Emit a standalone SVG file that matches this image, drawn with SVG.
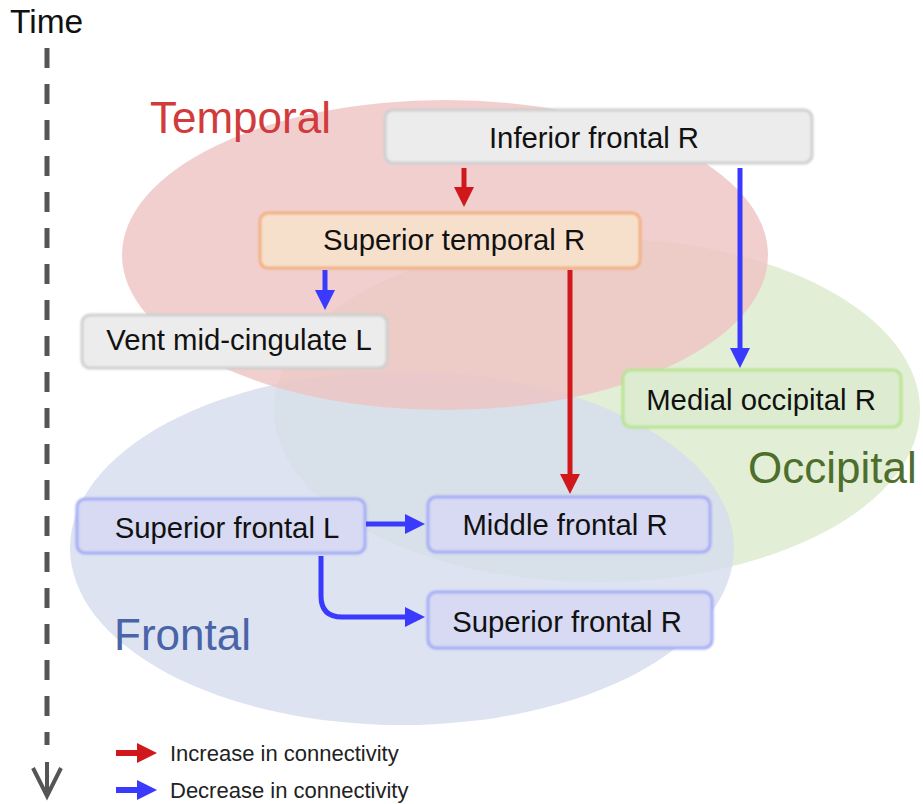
<svg xmlns="http://www.w3.org/2000/svg" width="923" height="804" viewBox="0 0 923 804">
  <style>
    .t { font-family: "Liberation Sans", Arial, sans-serif; fill: #111; }
    .node { font-size: 29.3px; text-anchor: middle; }
    .region { font-size: 44px; }
    .legend { font-size: 22px; fill: #222; }
    .red { stroke: #d0181c; }
    .blue { stroke: #3a3aff; }
    .conn { fill: none; stroke-width: 5; }
    .gray rect.b { fill: #ececec; stroke: #cfcfcf; }
    .peach rect.b { fill: #f6e0cc; stroke: #f0b080; }
    .green rect.b { fill: #ddecd0; stroke: #b5e48e; }
    .bl rect.b { fill: #d7daf2; stroke: #a3abf6; }
    rect.b { stroke-width: 3; }
  </style>
  <defs>
    <marker id="ar" markerUnits="userSpaceOnUse" markerWidth="22" markerHeight="22" refX="2" refY="10" orient="auto">
      <path d="M0,0 L20,10 L0,20 z" fill="#d0181c"/>
    </marker>
    <marker id="ab" markerUnits="userSpaceOnUse" markerWidth="22" markerHeight="22" refX="2" refY="10" orient="auto">
      <path d="M0,0 L20,10 L0,20 z" fill="#3a3aff"/>
    </marker>
    <filter id="soft" x="-5%" y="-10%" width="110%" height="120%">
      <feGaussianBlur stdDeviation="0.8"/>
    </filter>
  </defs>
  <rect width="923" height="804" fill="#ffffff"/>

  <!-- regions -->
  <g id="regions">
    <ellipse cx="597" cy="410" rx="323" ry="172" fill="#dceacd" opacity="0.8"/>
    <ellipse cx="402" cy="548" rx="332" ry="177" fill="#d4dcee" opacity="0.8"/>
    <ellipse cx="445" cy="255" rx="323" ry="155" fill="#efc3c3" opacity="0.8"/>
    <text class="t region" x="150" y="133" style="fill:#d23b3b">Temporal</text>
    <text class="t region" x="748" y="483" style="fill:#4e6e2c">Occipital</text>
    <text class="t region" x="114" y="650" style="fill:#4a64a8">Frontal</text>
  </g>

  <!-- time axis -->
  <g id="time">
    <text class="t" x="10" y="33" style="font-size:33.5px">Time</text>
    <line x1="47" y1="48" x2="47" y2="745" stroke="#555" stroke-width="5" stroke-dasharray="20 16"/>
    <path d="M47,762 L47,796 M33,768 L47,796 L61,768" fill="none" stroke="#555" stroke-width="4"/>
  </g>

  <!-- nodes -->
  <g id="n-inferior-frontal-r" class="gray">
    <rect class="b" x="385" y="110" width="427" height="53" rx="8" filter="url(#soft)"/>
    <text class="t node" x="594" y="148">Inferior frontal R</text>
  </g>
  <g id="n-superior-temporal-r" class="peach">
    <rect class="b" x="260" y="213" width="380" height="55" rx="8" filter="url(#soft)"/>
    <text class="t node" x="454" y="250">Superior temporal R</text>
  </g>
  <g id="n-vent-mid-cingulate-l" class="gray">
    <rect class="b" x="82" y="315" width="305" height="53" rx="8" filter="url(#soft)"/>
    <text class="t node" x="239" y="350">Vent mid-cingulate L</text>
  </g>
  <g id="n-medial-occipital-r" class="green">
    <rect class="b" x="623" y="370" width="278" height="57" rx="8" filter="url(#soft)"/>
    <text class="t node" x="761" y="410">Medial occipital R</text>
  </g>
  <g id="n-superior-frontal-l" class="bl">
    <rect class="b" x="77" y="499" width="288" height="54" rx="8" filter="url(#soft)"/>
    <text class="t node" x="227" y="538">Superior frontal L</text>
  </g>
  <g id="n-middle-frontal-r" class="bl">
    <rect class="b" x="428" y="497" width="282" height="55" rx="8" filter="url(#soft)"/>
    <text class="t node" x="565" y="535">Middle frontal R</text>
  </g>
  <g id="n-superior-frontal-r" class="bl">
    <rect class="b" x="428" y="592" width="284" height="56" rx="8" filter="url(#soft)"/>
    <text class="t node" x="567" y="632">Superior frontal R</text>
  </g>

  <!-- connectors -->
  <g id="connectors">
    <path class="conn red" d="M464,168 L464,189" marker-end="url(#ar)"/>
    <path class="conn blue" d="M740,168 L740,350" marker-end="url(#ab)"/>
    <path class="conn blue" d="M325,270 L325,292" marker-end="url(#ab)"/>
    <path class="conn red" d="M570,270 L570,476" marker-end="url(#ar)"/>
    <path class="conn blue" d="M366,524 L407,524" marker-end="url(#ab)"/>
    <path class="conn blue" d="M321,556 L321,596 Q321,617 342,617 L407,617" marker-end="url(#ab)"/>
  </g>

  <!-- legend -->
  <g id="legend">
    <path class="conn red" d="M116,753 L139,753" marker-end="url(#ar)" style="stroke-width:6"/>
    <text class="t legend" x="170" y="761">Increase in connectivity</text>
    <path class="conn blue" d="M116,790 L139,790" marker-end="url(#ab)" style="stroke-width:6"/>
    <text class="t legend" x="170" y="798">Decrease in connectivity</text>
  </g>
</svg>
